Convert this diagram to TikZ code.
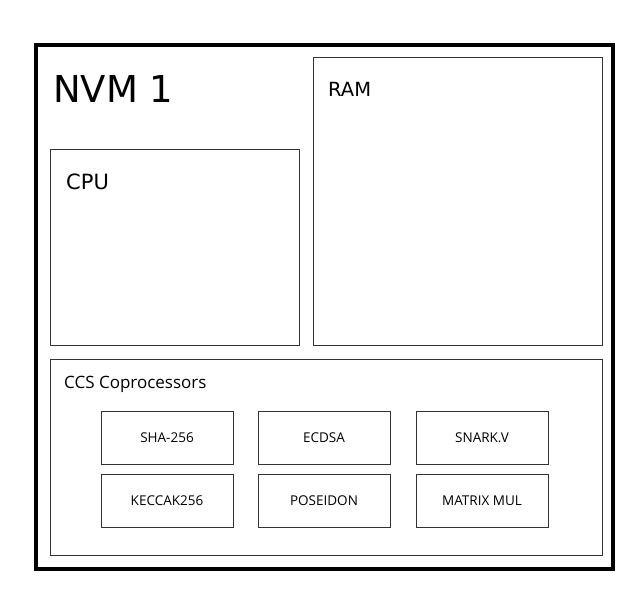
\documentclass[tikz,border=0pt]{standalone}
\usepackage{fontspec}
\setmainfont{DejaVu Sans}
\newfontfamily\ccsfont{Open Sans}
\begin{document}
\begin{tikzpicture}[x=1pt,y=-1pt,
  outerbox/.style={draw=black,line width=3.2pt},
  panel/.style={draw=black!80,line width=1pt},
  cobox/.style={draw=black!80,line width=1pt,minimum width=132pt,minimum height=53pt,inner sep=0pt,font=\ccsfont\fontsize{13.5}{15}\selectfont},
  lbl/.style={anchor=base west,inner sep=0pt}]
\useasboundingbox (0,0) rectangle (644,604);
\draw[outerbox] (36,45) rectangle (613,569);
\draw[panel] (50,150) rectangle (299,345);
\draw[panel] (313,58) rectangle (602,345);
\draw[panel] (50,359) rectangle (602,555);
\node[lbl,font=\fontsize{37}{40}\selectfont] (nvm) at (53,103) {NVM 1};
\node[lbl,font=\fontsize{21}{24}\selectfont] (cpu) at (66,189) {CPU};
\node[lbl,font=\fontsize{19.5}{22}\selectfont] (ram) at (328,97) {RAM};
\node[lbl,font=\ccsfont\fontsize{17}{20}\selectfont] (ccs) at (64,388) {CCS Coprocessors};
\node[cobox] (sha) at (167,438) {SHA-256};
\node[cobox] (ecdsa) at (324,438) {ECDSA};
\node[cobox] (snark) at (482,438) {SNARK.V};
\node[cobox] (keccak) at (167,501) {KECCAK256};
\node[cobox] (pos) at (324,501) {POSEIDON};
\node[cobox] (mat) at (482,501) {MATRIX MUL};
\end{tikzpicture}
\end{document}
